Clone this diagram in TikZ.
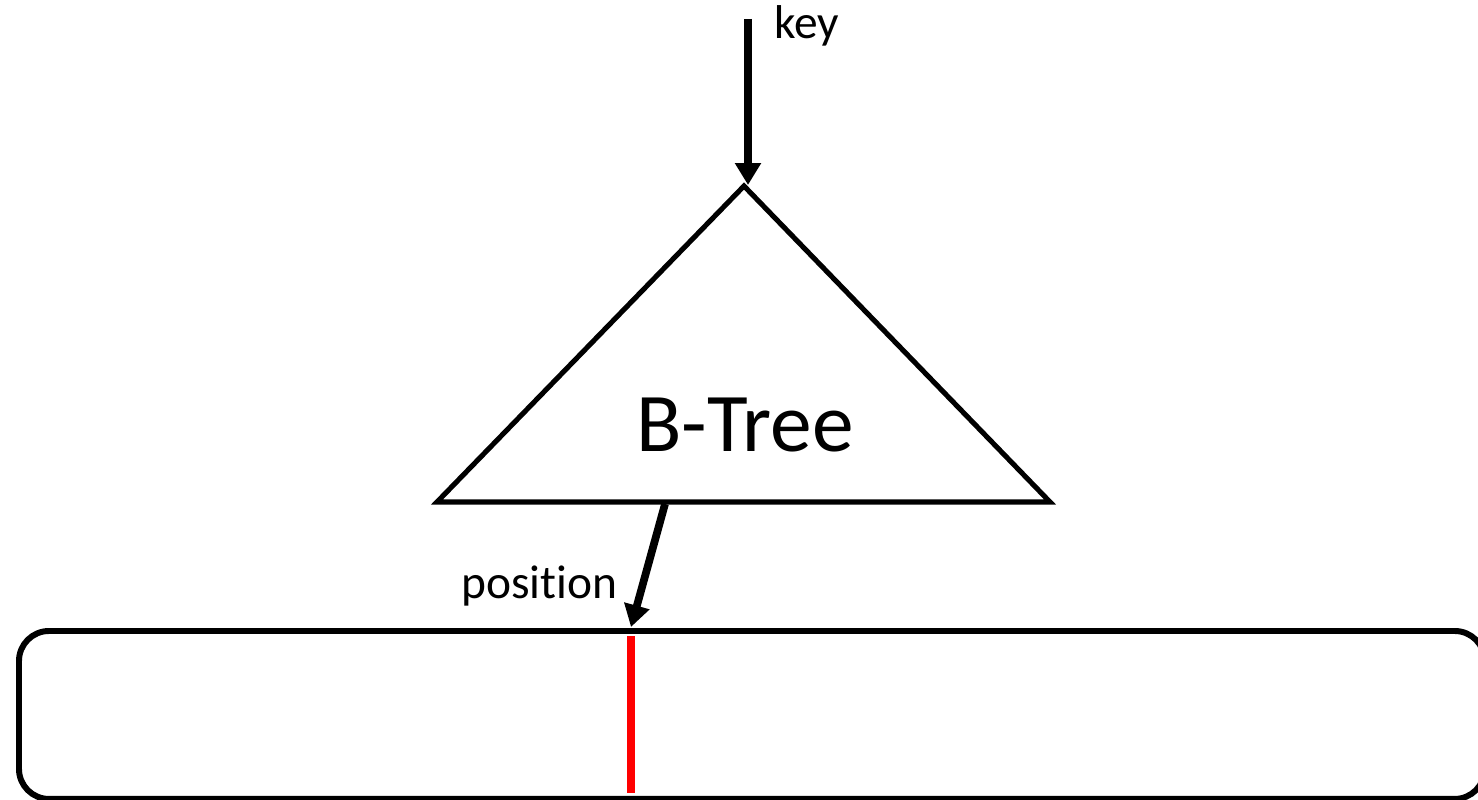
\documentclass[tikz,border=0pt]{standalone}
\usepackage{fontspec}
\setmainfont{Carlito}[Ligatures={NoCommon,NoContextual}]
\usetikzlibrary{arrows.meta, positioning, calc}
\definecolor{inkline}{RGB}{0, 0, 0}
\definecolor{marker}{RGB}{255, 0, 0}
\tikzset{
  treeshape/.style={draw=inkline, line width=2.9pt, line join=miter},
  arrayblock/.style={
    rectangle, rounded corners=0.6cm, draw=inkline, line width=3.4pt,
    minimum width=29.32cm, minimum height=3.36cm, inner sep=0pt
  },
  labeltext/.style={font=\fontsize{27}{31}\selectfont, inner sep=0pt},
  treetext/.style={font=\fontsize{47.5}{52}\selectfont, inner sep=0pt},
  lookupline/.style={
    draw=inkline, line width=4.4pt,
    -{Triangle[length=0.44cm, width=0.5cm]}
  },
  slotline/.style={draw=marker, line width=4pt}
}
\begin{document}
\begin{tikzpicture}[x=0.02cm, y=-0.02cm]
  \useasboundingbox (0,0) rectangle (1478,800);

  % the tree
  \coordinate (apex) at (744,186);
  \coordinate (leftfoot) at (437,502);
  \coordinate (rightfoot) at (1050,502);
  \draw[treeshape] (apex) -- (leftfoot) -- (rightfoot) -- cycle;
  \node[treetext, anchor=base] (btree) at (745,452) {B-Tree};

  % the sorted array
  \node[arrayblock, anchor=north west] (array) at (16,628) {};
  \coordinate (slottop) at (631,636);
  \coordinate (slotbottom) at (631,793);
  \draw[slotline] (slottop) -- (slotbottom);

  % lookups
  \coordinate (keyin) at (748,19);
  \coordinate (keyend) at (748,185);
  \node[labeltext, anchor=base west] (keylabel) at (774,39) {key};
  \draw[lookupline] (keyin) -- (keyend);

  \coordinate (treeout) at (665,504);
  \coordinate (slotin) at (631,627);
  \node[labeltext, anchor=base west] (poslabel) at (461,598) {position};
  \draw[lookupline] (treeout) -- (slotin);
\end{tikzpicture}
\end{document}
